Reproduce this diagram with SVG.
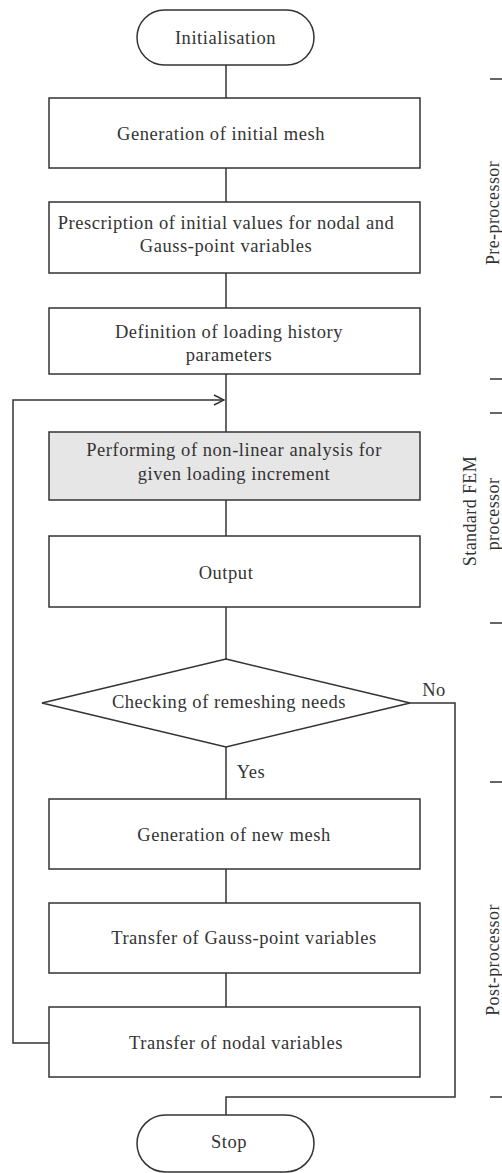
<svg xmlns="http://www.w3.org/2000/svg" width="502" height="1173" viewBox="0 0 502 1173">
<defs>
<style>
.n{fill:#fff;stroke:#333;stroke-width:1.5}
.g{fill:#e6e6e6;stroke:#333;stroke-width:1.5}
.c{fill:none;stroke:#333;stroke-width:1.5}
text{font-family:"Liberation Serif","Times New Roman",serif;font-size:18.5px;letter-spacing:0.55px;fill:#333;text-anchor:middle;dominant-baseline:central}
.r{font-size:18px;letter-spacing:0.4px}
</style>
<marker id="ah" viewBox="0 0 12 12" refX="11" refY="6" markerWidth="12" markerHeight="12" markerUnits="userSpaceOnUse" orient="auto">
<path d="M1,1 L11,6 L1,11" fill="none" stroke="#333" stroke-width="1.5"/>
</marker>
</defs>
<rect width="502" height="1173" fill="#fff"/>
<g id="connectors">
<line class="c" x1="226" y1="65" x2="226" y2="98"/>
<line class="c" x1="226" y1="168" x2="226" y2="202"/>
<line class="c" x1="226" y1="273" x2="226" y2="308"/>
<line class="c" x1="226" y1="374" x2="226" y2="432"/>
<line class="c" x1="226" y1="500" x2="226" y2="536"/>
<line class="c" x1="226" y1="607" x2="226" y2="659"/>
<line class="c" x1="226" y1="747" x2="226" y2="799"/>
<line class="c" x1="226" y1="869" x2="226" y2="903"/>
<line class="c" x1="226" y1="973" x2="226" y2="1007"/>
<polyline class="c" points="49,1043 13,1043 13,400 224,400" marker-end="url(#ah)"/>
<polyline class="c" points="410,703 455,703 455,1097 226,1097 226,1115"/>
<text x="434" y="690">No</text>
<text x="251" y="772">Yes</text>
</g>
<g id="start"><rect class="n" x="137" y="10" width="177" height="55" rx="27.5"/><text x="225.5" y="38">Initialisation</text></g>
<g id="gen-initial-mesh"><rect class="n" x="49" y="98" width="371" height="70"/><text x="221" y="134">Generation of initial mesh</text></g>
<g id="prescription"><rect class="n" x="49" y="202" width="371" height="71"/><text x="226" y="223">Prescription of initial values for nodal and</text><text x="226" y="246">Gauss-point variables</text></g>
<g id="loading-history"><rect class="n" x="49" y="308" width="371" height="66"/><text x="229" y="332">Definition of loading history</text><text x="229" y="355">parameters</text></g>
<g id="nonlinear-analysis"><rect class="g" x="49" y="432" width="371" height="68"/><text x="234" y="450">Performing of non-linear analysis for</text><text x="234" y="474">given loading increment</text></g>
<g id="output"><rect class="n" x="49" y="536" width="371" height="71"/><text x="226" y="573">Output</text></g>
<g id="check-remeshing"><polygon class="n" points="226,659 410,703 226,747 42,703"/><text x="229" y="702">Checking of remeshing needs</text></g>
<g id="gen-new-mesh"><rect class="n" x="49" y="799" width="371" height="70"/><text x="234" y="835">Generation of new mesh</text></g>
<g id="transfer-gauss"><rect class="n" x="49" y="903" width="371" height="70"/><text x="244" y="938">Transfer of Gauss-point variables</text></g>
<g id="transfer-nodal"><rect class="n" x="49" y="1007" width="371" height="70"/><text x="236" y="1043">Transfer of nodal variables</text></g>
<g id="stop"><rect class="n" x="137" y="1115" width="177" height="57" rx="28.5"/><text x="229" y="1142">Stop</text></g>
<g id="phase-labels">
<line class="c" x1="490" y1="79" x2="502" y2="79"/>
<line class="c" x1="490" y1="379" x2="502" y2="379"/>
<line class="c" x1="490" y1="413" x2="502" y2="413"/>
<line class="c" x1="490" y1="623" x2="502" y2="623"/>
<line class="c" x1="490" y1="782" x2="502" y2="782"/>
<line class="c" x1="490" y1="1097" x2="502" y2="1097"/>
<text class="r" transform="translate(493,213) rotate(-90)">Pre-processor</text>
<text class="r" transform="translate(470,511) rotate(-90)">Standard FEM</text>
<text class="r" transform="translate(493,514) rotate(-90)">processor</text>
<text class="r" transform="translate(493,960) rotate(-90)">Post-processor</text>
</g>
</svg>
